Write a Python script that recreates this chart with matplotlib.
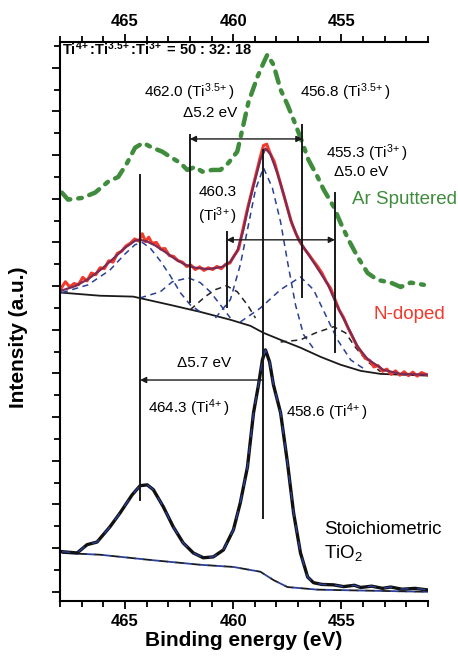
import matplotlib
matplotlib.use("Agg")
import numpy as np
import matplotlib.pyplot as plt
from matplotlib.ticker import MultipleLocator

plt.rcParams['font.family'] = ['Liberation Sans', 'DejaVu Sans']
plt.rcParams['mathtext.default'] = 'regular'

# Ar sputtered Ti 2p spectrum (binding energy eV, intensity a.u.)
ar_be = [467.91, 467.63, 466.98, 466.38, 465.78, 465.31, 464.90, 464.53, 464.16, 463.74,
         463.28, 462.91, 462.44, 462.12, 461.75, 461.43, 460.96, 460.59, 460.22, 459.81,
         459.53, 459.30, 458.88, 458.60, 458.42, 458.14, 457.81, 457.49, 457.21, 456.89,
         456.52, 456.10, 455.82, 455.36, 455.04, 454.67, 454.25, 453.79, 453.32, 452.72,
         452.26, 451.80, 451.19]
ar_int = [9.14, 8.98, 9.02, 9.14, 9.39, 9.50, 9.82, 10.17, 10.28, 10.17,
          10.08, 9.96, 9.82, 9.66, 9.73, 9.62, 9.66, 9.66, 9.82, 10.08,
          10.69, 11.20, 11.79, 12.11, 12.30, 12.07, 11.50, 11.15, 10.81, 10.40,
          9.89, 9.50, 9.21, 8.82, 8.45, 8.06, 7.67, 7.30, 7.14, 7.08,
          6.98, 7.08, 7.03]

# N-doped raw spectrum
nd_be = [467.95, 467.75, 467.55, 467.35, 467.15, 466.95, 466.75, 466.55, 466.35, 466.15,
         465.95, 465.75, 465.55, 465.35, 465.15, 464.95, 464.75, 464.55, 464.35, 464.20,
         464.05, 463.90, 463.75, 463.55, 463.35, 463.15, 462.95, 462.75, 462.55, 462.35,
         462.15, 461.95, 461.75, 461.55, 461.35, 461.15, 460.95, 460.75, 460.55, 460.35,
         460.15, 459.95, 459.75, 459.55, 459.35, 459.15, 458.95, 458.75, 458.60, 458.45,
         458.30, 458.10, 457.90, 457.70, 457.50, 457.30, 457.10, 456.90, 456.70, 456.50,
         456.30, 456.10, 455.90, 455.70, 455.50, 455.30, 455.10, 454.90, 454.70, 454.50,
         454.30, 454.10, 453.90, 453.70, 453.50, 453.30, 453.10, 452.90, 452.70, 452.50,
         452.30, 452.10, 451.90, 451.70, 451.50, 451.30, 451.00]
nd_int = [6.95, 7.10, 6.98, 7.06, 7.03, 7.20, 7.12, 7.30, 7.26, 7.42,
          7.40, 7.58, 7.55, 7.75, 7.80, 7.92, 7.98, 8.08, 8.03, 8.20,
          8.02, 8.12, 7.98, 8.00, 7.85, 7.86, 7.70, 7.68, 7.58, 7.55,
          7.45, 7.48, 7.38, 7.44, 7.36, 7.42, 7.38, 7.45, 7.40, 7.50,
          7.53, 7.70, 7.85, 8.30, 8.75, 9.15, 9.55, 9.95, 10.22, 10.25,
          10.05, 9.85, 9.50, 9.15, 8.80, 8.45, 8.20, 8.00, 7.85, 7.72,
          7.58, 7.45, 7.30, 7.10, 6.95, 6.70, 6.45, 6.28, 6.05, 5.85,
          5.65, 5.50, 5.35, 5.30, 5.15, 5.18, 5.05, 5.10, 4.98, 5.06,
          4.96, 5.04, 4.95, 5.03, 4.94, 5.02, 4.96]

# N-doped fitted envelope
fit_be = [467.91, 467.30, 466.70, 466.06, 465.45, 464.99, 464.53, 464.30, 463.97, 463.60,
          463.14, 462.68, 462.21, 461.75, 461.15, 460.50, 460.13, 459.81, 459.53, 459.30,
          459.06, 458.74, 458.51, 458.28, 457.95, 457.68, 457.35, 456.98, 456.29, 455.64,
          455.18, 454.71, 454.25, 453.79, 453.05, 452.26, 450.96]
fit_int = [6.90, 7.00, 7.16, 7.40, 7.67, 7.88, 8.04, 8.06, 8.02, 7.93,
           7.78, 7.62, 7.49, 7.42, 7.39, 7.44, 7.56, 7.80, 8.29, 8.82,
           9.30, 9.90, 10.15, 10.02, 9.57, 9.12, 8.52, 8.06, 7.55, 7.05,
           6.53, 6.07, 5.61, 5.33, 5.08, 4.99, 4.97]

# N-doped Shirley background
nbg_be = [467.91, 466.15, 464.62, 462.91, 461.52, 460.13, 459.20, 458.60, 457.81, 456.89,
          455.96, 455.04, 454.11, 453.19, 450.96]
nbg_int = [6.85, 6.78, 6.76, 6.57, 6.41, 6.23, 6.09, 5.93, 5.77, 5.59,
           5.38, 5.20, 5.06, 4.99, 4.95]

# N-doped fit components
comp_a_be = [467.91, 466.70, 465.69, 464.99, 464.53, 464.20, 463.83, 463.37, 462.91, 462.44, 461.98, 461.52]
comp_a_int = [6.85, 7.03, 7.37, 7.74, 7.95, 8.00, 7.87, 7.58, 7.24, 6.85, 6.57, 6.41]
comp_b_be = [464.30, 463.37, 462.81, 462.07, 461.52, 461.06, 460.59, 460.13]
comp_b_int = [6.73, 6.87, 7.10, 7.19, 7.08, 6.87, 6.57, 6.27]
comp_c_be = [461.98, 461.29, 460.82, 460.31, 459.81, 459.34, 458.97]
comp_c_int = [6.46, 6.76, 6.92, 7.01, 6.87, 6.57, 6.27]
comp_d_be = [460.82, 460.13, 459.67, 459.34, 458.97, 458.60, 458.19, 457.81, 457.49, 457.12, 456.75, 456.19]
comp_d_int = [6.27, 6.69, 7.49, 8.29, 9.21, 9.71, 9.25, 8.47, 7.56, 6.57, 5.89, 5.50]
comp_e_be = [459.67, 458.74, 457.81, 456.89, 456.29, 455.73, 455.18, 454.57, 453.88]
comp_e_int = [6.18, 6.50, 6.92, 7.21, 6.92, 6.34, 5.77, 5.31, 5.08]
comp_f_be = [457.81, 456.89, 456.19, 455.36, 454.81, 454.34, 453.79, 453.19]
comp_f_int = [5.72, 5.77, 5.93, 6.07, 5.93, 5.59, 5.27, 5.04]

# stoichiometric TiO2
st_be = [467.91, 467.21, 466.75, 466.29, 465.69, 465.22, 464.67, 464.30, 463.97, 463.69,
         463.23, 462.77, 462.31, 461.84, 461.38, 460.92, 460.45, 459.99, 459.67, 459.34,
         459.06, 458.83, 458.65, 458.51, 458.32, 458.14, 457.81, 457.49, 457.21, 456.89,
         456.56, 456.29, 455.90, 455.36, 454.90, 454.40, 454.11, 453.60, 453.10, 452.72,
         452.20, 451.60, 450.96]
st_int = [0.92, 0.89, 1.08, 1.14, 1.49, 1.81, 2.22, 2.43, 2.45, 2.34,
          1.95, 1.49, 1.12, 0.89, 0.78, 0.80, 0.96, 1.42, 2.04, 2.86,
          4.10, 4.74, 5.31, 5.54, 5.27, 4.74, 4.10, 2.95, 1.81, 0.89,
          0.34, 0.21, 0.17, 0.16, 0.12, 0.15, 0.10, 0.13, 0.08, 0.11,
          0.06, 0.08, 0.04]
sbg_be = [467.91, 466.15, 463.83, 461.52, 459.99, 458.74, 458.14, 457.49, 456.10, 450.96]
sbg_int = [0.89, 0.85, 0.73, 0.62, 0.57, 0.46, 0.27, 0.11, 0.05, 0.0]

# peak marker lines: (be, top, bottom)
markers = [(464.3, 9.55, 2.11), (462.0, 10.47, 6.64), (460.3, 8.24, 6.53),
           (458.6, 10.12, 1.69), (456.8, 10.69, 6.76), (455.3, 9.14, 5.50)]

green = '#3f8d3c'
red = '#f2392b'
blue = '#2a3f95'

fig = plt.figure(figsize=(4.58, 6.58), dpi=100)
ax = fig.add_axes([0.131, 0.0866, 0.8035, 0.8496])

ax.plot(ar_be, ar_int, color=green, lw=3.2, ls=(0, (2.6, 1.8, 0.8, 1.8)), dash_capstyle='round')

ax.plot(nbg_be, nbg_int, color='#1a1a1a', lw=1.3)
for cbe, cint, col in [(comp_a_be, comp_a_int, blue), (comp_b_be, comp_b_int, blue),
                       (comp_c_be, comp_c_int, '#222222'), (comp_d_be, comp_d_int, blue),
                       (comp_e_be, comp_e_int, blue), (comp_f_be, comp_f_int, '#222222')]:
    ax.plot(cbe, cint, color=col, lw=1.1, ls=(0, (4, 3)))
ax.plot(nd_be, nd_int, color=red, lw=2.2)
ax.plot(fit_be, fit_int, color='#7d2a55', lw=1.6)

ax.plot(sbg_be, sbg_int, color='#1a1a1a', lw=1.3, ls=(0, (5, 4)))
ax.plot(sbg_be, sbg_int, color=blue, lw=1.3, ls=(4.5, (5, 4)))
ax.plot(st_be, st_int, color='#111111', lw=2.4)
ax.plot(st_be, st_int, color=blue, lw=1.0, ls=(0, (6, 6)))

for be, top, bot in markers:
    ax.plot([be, be], [bot, top], color='#1a1a1a', lw=1.4)

arrow = dict(arrowstyle='<|-|>', color='#1a1a1a', lw=1.0, mutation_scale=9, shrinkA=0, shrinkB=0)
ax.annotate('', xy=(462.0, 10.37), xytext=(456.8, 10.37), arrowprops=arrow)
ax.annotate('', xy=(460.3, 8.06), xytext=(455.3, 8.06), arrowprops=arrow)
ax.annotate('', xy=(464.3, 4.85), xytext=(458.6, 4.85),
            arrowprops=dict(arrowstyle='-|>', color='#1a1a1a', lw=1.0, mutation_scale=9, shrinkA=0, shrinkB=0))

fs = 11
ax.text(464.11, 11.45, r'462.0 (Ti$^{3.5\!+}$)', fontsize=fs, va='center')
ax.text(456.89, 11.45, r'456.8 (Ti$^{3.5\!+}$)', fontsize=fs, va='center')
ax.text(462.31, 10.97, '\u03945.2 eV', fontsize=fs, va='center')
ax.text(455.69, 10.05, r'455.3 (Ti$^{3\!+}$)', fontsize=fs, va='center')
ax.text(455.36, 9.62, '\u03945.0 eV', fontsize=fs, va='center')
ax.text(460.73, 9.16, '460.3', fontsize=fs, va='center', ha='center')
ax.text(460.73, 8.59, r'(Ti$^{3\!+}$)', fontsize=fs, va='center', ha='center')
ax.text(462.58, 5.24, '\u03945.7 eV', fontsize=fs, va='center')
ax.text(463.93, 4.21, r'464.3 (Ti$^{4\!+}$)', fontsize=fs, va='center')
ax.text(457.54, 4.12, r'458.6 (Ti$^{4\!+}$)', fontsize=fs, va='center')

ax.text(454.53, 8.98, 'Ar Sputtered', fontsize=13.5, color=green, va='center')
ax.text(453.51, 6.34, 'N-doped', fontsize=13.5, color=red, va='center')
ax.text(455.82, 1.42, 'Stoichiometric', fontsize=13.5, va='center')
ax.text(455.82, 0.89, 'TiO$_2$', fontsize=13.5, va='center')

ax.text(467.9, 12.43, r'Ti$^{4\!+}$:Ti$^{3.5\!+}$:Ti$^{3\!+}$ = 50 : 32: 18', fontsize=10.5,
        fontweight='bold', va='center', clip_on=False)

ax.set_xlim(468, 451)
ax.set_ylim(-0.21, 12.59)
ax.xaxis.set_major_locator(MultipleLocator(5))
ax.xaxis.set_minor_locator(MultipleLocator(1))
ax.yaxis.set_major_locator(MultipleLocator(1))
ax.yaxis.set_minor_locator(MultipleLocator(0.5))
ax.set_yticklabels([])
ax.tick_params(axis='x', which='both', direction='out', top=True, labeltop=True,
               labelsize=12, width=1.3, pad=3)
ax.tick_params(axis='x', which='major', length=6)
ax.tick_params(axis='x', which='minor', length=4)
ax.tick_params(axis='y', which='major', direction='out', length=6, width=1.3)
ax.tick_params(axis='y', which='minor', direction='out', length=4, width=1.3)
for lab in ax.get_xticklabels():
    lab.set_fontweight('bold')
ax.spines['right'].set_visible(False)
for s in ('left', 'top', 'bottom'):
    ax.spines[s].set_linewidth(1.5)

ax.set_xlabel('Binding energy (eV)', fontsize=15, fontweight='bold', labelpad=2)
ax.set_ylabel('Intensity (a.u.)', fontsize=15, fontweight='bold')
ax.yaxis.set_label_coords(-0.087, 0.472)

fig.savefig('out.png', dpi=100)
